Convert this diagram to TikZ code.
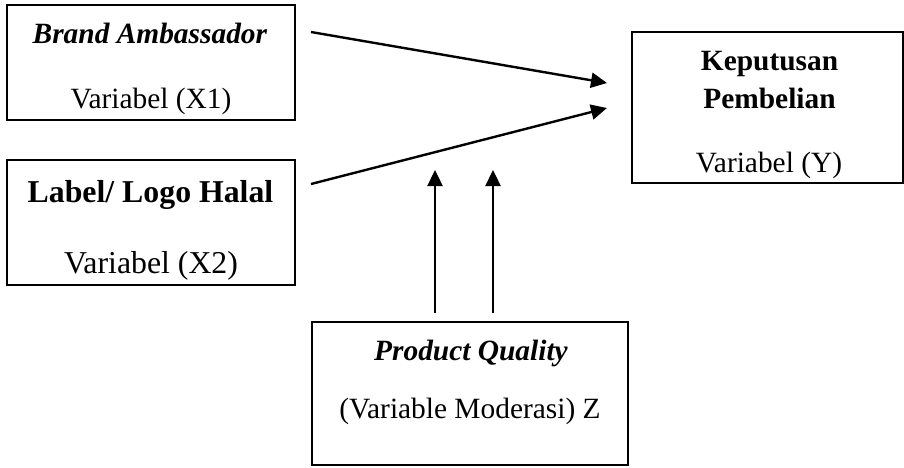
\documentclass[tikz,border=0pt]{standalone}
\usepackage{fontspec}
\setmainfont{Liberation Serif}
\usetikzlibrary{arrows.meta,calc}
\tikzset{box/.style={draw=black,line width=.75pt,inner sep=0pt},txt/.style={anchor=base,inner sep=0pt,font=\fontsize{14.7}{17}\selectfont},big/.style={anchor=base,inner sep=0pt,font=\fontsize{15.9}{19}\selectfont},arrow/.style={-{Triangle[length=8pt,width=7.5pt]},line width=1.2pt}}
\begin{document}
\begin{tikzpicture}[x=.5pt,y=-.5pt]
\useasboundingbox (0,0) rectangle (904,467);
\node[box,minimum width=144pt,minimum height=57.5pt] (x1) at (151,62.5) {};
\node[box,minimum width=144pt,minimum height=62.5pt] (x2) at (151,222.5) {};
\node[box,minimum width=135.5pt,minimum height=75.5pt] (y) at (767.5,107.5) {};
\node[box,minimum width=158pt,minimum height=71.5pt] (z) at (470,393.5) {};
\node[txt] (x1a) at (150,43) {\textbf{\textit{Brand Ambassador}}};
\node[txt] (x1b) at (151,108) {Variabel (X1)};
\node[big] (x2a) at (150.5,202) {\textbf{Label/ Logo Halal}};
\node[big] (x2b) at (151,273) {Variabel (X2)};
\node[txt] (ya) at (769.5,70) {\textbf{Keputusan}};
\node[txt] (yb) at (769.5,108) {\textbf{Pembelian}};
\node[txt] (yc) at (769,172) {Variabel (Y)};
\node[txt] (za) at (471,360) {\textbf{\textit{Product Quality}}};
\node[txt] (zb) at (470,418) {(Variable Moderasi) Z};
% connector ends
\coordinate (s1) at (311,32);\coordinate (e1) at (607,83);
\coordinate (s2) at (311,184);\coordinate (e2) at (607,108);
\coordinate (s3) at (435,313);\coordinate (e3) at (435,170);
\coordinate (s4) at (493,313);\coordinate (e4) at (493,170);
\draw[arrow](s1)--(e1);\draw[arrow](s2)--(e2);
\draw[arrow](s3)--(e3);\draw[arrow](s4)--(e4);
\end{tikzpicture}
\end{document}
